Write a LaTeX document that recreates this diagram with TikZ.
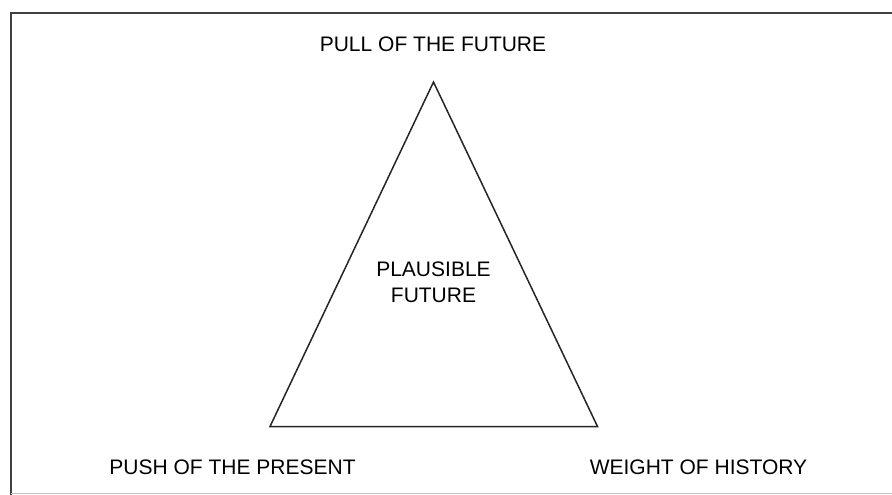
\documentclass[tikz,border=0pt]{standalone}
\usepackage{fontspec}
\setmainfont{Liberation Sans}
\begin{document}
\begin{tikzpicture}[x=1pt,y=-1pt,
  frameline/.style={draw=black!75, line width=2pt},
  triline/.style={draw=black!85, line width=1.5pt, line join=miter},
  lbl/.style={font=\fontsize{21}{25}\selectfont, text=black, inner sep=0pt, anchor=base}]
\useasboundingbox (0,0) rectangle (892,495);
\fill[white] (0,0) rectangle (892,495);
\coordinate (fTR) at (893,13);
\coordinate (fTL) at (11,13);
\coordinate (fBL) at (11,495);
\coordinate (fB0) at (11,493);
\coordinate (fB1) at (892,493);
\draw[frameline] (fBL) -- (fTL) -- (fTR);
\draw[draw=black!25, line width=0.8pt] (fB0) -- (fB1);
\coordinate (apex) at (433.5,82);
\coordinate (bl) at (270,426.5);
\coordinate (br) at (597.5,426.5);
\draw[triline] (apex) -- (bl) -- (br) -- cycle;
\node[lbl] (pull) at (433,51.5) {PULL OF THE FUTURE};
\node[lbl] (push) at (232.5,474) {PUSH OF THE PRESENT};
\node[lbl] (weight) at (698.5,474) {WEIGHT OF HISTORY};
\node[lbl] (plaus) at (433.5,276) {PLAUSIBLE};
\node[lbl] (fut) at (433.5,302) {FUTURE};
\end{tikzpicture}
\end{document}
